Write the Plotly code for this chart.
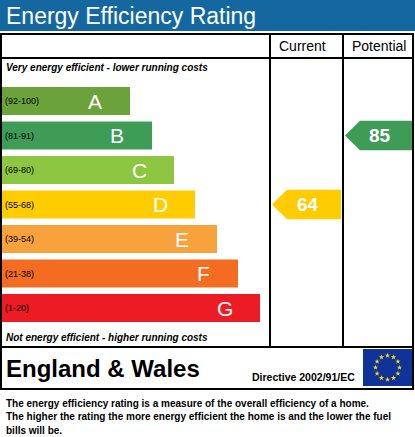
import numpy as np
import plotly.graph_objects as go

W, H = 415, 437

# band data
BANDS   = ["A", "B", "C", "D", "E", "F", "G"]
RANGES  = ["(92-100)", "(81-91)", "(69-80)", "(55-68)", "(39-54)", "(21-38)", "(1-20)"]
LOWER   = [92, 81, 69, 55, 39, 21, 1]
BAR_END = [130, 152, 174, 195, 217, 238, 260]
COLORS  = ["#6ba23c", "#3e9c57", "#8dc641", "#ffcc00", "#f7a23d", "#f26c22", "#ed1c24"]

CURRENT = 64
POTENTIAL = 85

BLUE = "#15689f"
FONT = "Liberation Sans, Arial, sans-serif"


def band_of(v):
    for i, lo in enumerate(LOWER):
        if v >= lo:
            return i
    return len(LOWER) - 1


fig = go.Figure()

# bars on an overlay axis indexed by band
fig.add_trace(go.Bar(
    y=list(range(len(BANDS))), x=[e - 2 for e in BAR_END], base=2,
    orientation="h", width=0.81, marker=dict(color=COLORS, line=dict(width=0)),
    xaxis="x", yaxis="y2", hoverinfo="skip", showlegend=False,
))

shapes = []
ann = []
line = dict(color="black", width=2)
# title band
shapes.append(dict(type="rect", x0=0, x1=W, y0=0, y1=31, fillcolor=BLUE, line_width=0, layer="below"))
ann.append(dict(x=4, y=16, text="Energy Efficiency Rating", xanchor="left", font=dict(size=23, color="white", family=FONT)))
# frame
shapes.append(dict(type="rect", x0=1, x1=413, y0=34, y1=389, line=line))
shapes.append(dict(type="line", x0=1, x1=413, y0=58, y1=58, line=line))
shapes.append(dict(type="line", x0=1, x1=413, y0=347, y1=347, line=line))
shapes.append(dict(type="line", x0=270, x1=270, y0=34, y1=347, line=line))
shapes.append(dict(type="line", x0=343, x1=343, y0=34, y1=347, line=line))
ann.append(dict(x=302, y=46, text="Current", font=dict(size=14, color="black", family=FONT)))
ann.append(dict(x=379, y=46, text="Potential", font=dict(size=14, color="black", family=FONT)))
ann.append(dict(x=4, y=67, xanchor="left", text="<b><i>Very energy efficient - lower running costs</i></b>",
                font=dict(size=10, color="black", family=FONT)))
ann.append(dict(x=4, y=337, xanchor="left", text="<b><i>Not energy efficient - higher running costs</i></b>",
                font=dict(size=10, color="black", family=FONT)))

for i, (b, r, e) in enumerate(zip(BANDS, RANGES, BAR_END)):
    ann.append(dict(x=3, y=i, yref="y2", xanchor="left", text=r, font=dict(size=9, color="black", family=FONT)))
    ann.append(dict(x=e - 35, y=i, yref="y2", xanchor="center", text=b, font=dict(size=21, color="white", family=FONT)))


def arrow(x0, x1, value):
    i = band_of(value)
    h = 0.43
    tip = 15
    path = (f"M {x0},{i} L {x0 + tip},{i - h} L {x1},{i - h} L {x1},{i + h} L {x0 + tip},{i + h} Z")
    shapes.append(dict(type="path", path=path, xref="x", yref="y2", fillcolor=COLORS[i], line_width=0))
    ann.append(dict(x=(x0 + x1) / 2 + 1, y=i, yref="y2", text=f"<b>{value}</b>",
                    font=dict(size=19, color="white", family=FONT)))


arrow(272, 341, CURRENT)
arrow(345, 412, POTENTIAL)

# bottom row
ann.append(dict(x=4, y=368, xanchor="left", text="<b>England &amp; Wales</b>", font=dict(size=24, color="black", family=FONT)))
ann.append(dict(x=357, y=377, xanchor="right", text="<b>Directive 2002/91/EC</b>", font=dict(size=10.5, color="black", family=FONT)))
shapes.append(dict(type="rect", x0=363, x1=412, y0=349, y1=386, fillcolor="#10339a", line_width=0, layer="below"))
ang = np.linspace(0, 2 * np.pi, 13)[:-1]
fig.add_trace(go.Scatter(x=387.5 + 12 * np.cos(ang), y=367.5 + 12 * np.sin(ang), mode="markers",
                         marker=dict(symbol="star", size=4, color="#ffdd00"), hoverinfo="skip", showlegend=False))

footer = ["The energy efficiency rating is a measure of the overall efficiency of a home.",
          "The higher the rating the more energy efficient the home is and the lower the fuel",
          "bills will be."]
for k, t in enumerate(footer):
    ann.append(dict(x=4, y=403 + 13.5 * k, xanchor="left", text=f"<b>{t}</b>", font=dict(size=10, color="black", family=FONT)))

for a in ann:
    a.setdefault("xref", "x")
    a.setdefault("yref", "y")
    a["showarrow"] = False

top = -101 / 34.5
fig.update_layout(
    width=W, height=H, margin=dict(l=0, r=0, t=0, b=0),
    paper_bgcolor="white", plot_bgcolor="white",
    xaxis=dict(range=[0, W], visible=False, fixedrange=True),
    yaxis=dict(range=[H, 0], visible=False, fixedrange=True),
    yaxis2=dict(range=[H / 34.5 + top, top], overlaying="y", visible=False, fixedrange=True),
    shapes=shapes, annotations=ann,
)

fig.write_html("out.html", config={"displayModeBar": False},
               post_script="document.body.style.margin='0';document.body.style.overflow='hidden';")
